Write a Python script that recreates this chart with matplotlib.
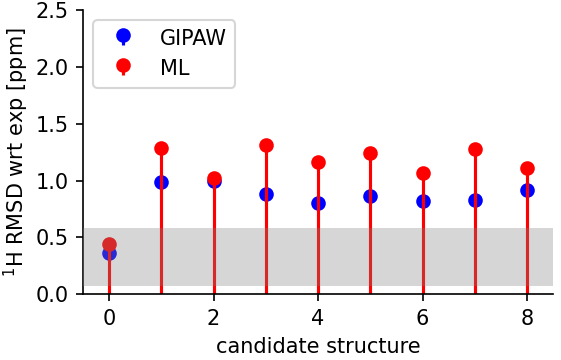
import matplotlib
matplotlib.use("Agg")
import matplotlib.pyplot as plt
import numpy as np

structures = [0, 1, 2, 3, 4, 5, 6, 7, 8]
gipaw = [0.36, 0.99, 1.00, 0.88, 0.80, 0.86, 0.82, 0.825, 0.92]
ml = [0.44, 1.29, 1.02, 1.31, 1.16, 1.245, 1.065, 1.275, 1.11]
band = (0.07, 0.58)

fig, ax = plt.subplots(figsize=(561 / 150, 360 / 150), dpi=150)

m1, s1, b1 = ax.stem(structures, gipaw, linefmt='b-', markerfmt='bo', basefmt=' ', label='GIPAW')
m2, s2, b2 = ax.stem(structures, ml, linefmt='r-', markerfmt='ro', basefmt=' ', label='ML')
s1.set_linewidth(1.2)

ax.axhspan(band[0], band[1], color='grey', alpha=0.32, lw=0, zorder=3)

ax.set_xlim(-0.5, 8.5)
ax.set_ylim(0, 2.5)
ax.set_xticks([0, 2, 4, 6, 8])
ax.set_yticks([0, 0.5, 1.0, 1.5, 2.0, 2.5])
ax.spines['top'].set_visible(False)
ax.spines['right'].set_visible(False)
ax.set_xlabel('candidate structure')
ax.set_ylabel('$^1$H RMSD wrt exp [ppm]', labelpad=2)
ax.legend(loc='upper left')

fig.subplots_adjust(left=0.148, right=0.986, bottom=0.183, top=0.972)
fig.savefig('out.png', dpi=150)
